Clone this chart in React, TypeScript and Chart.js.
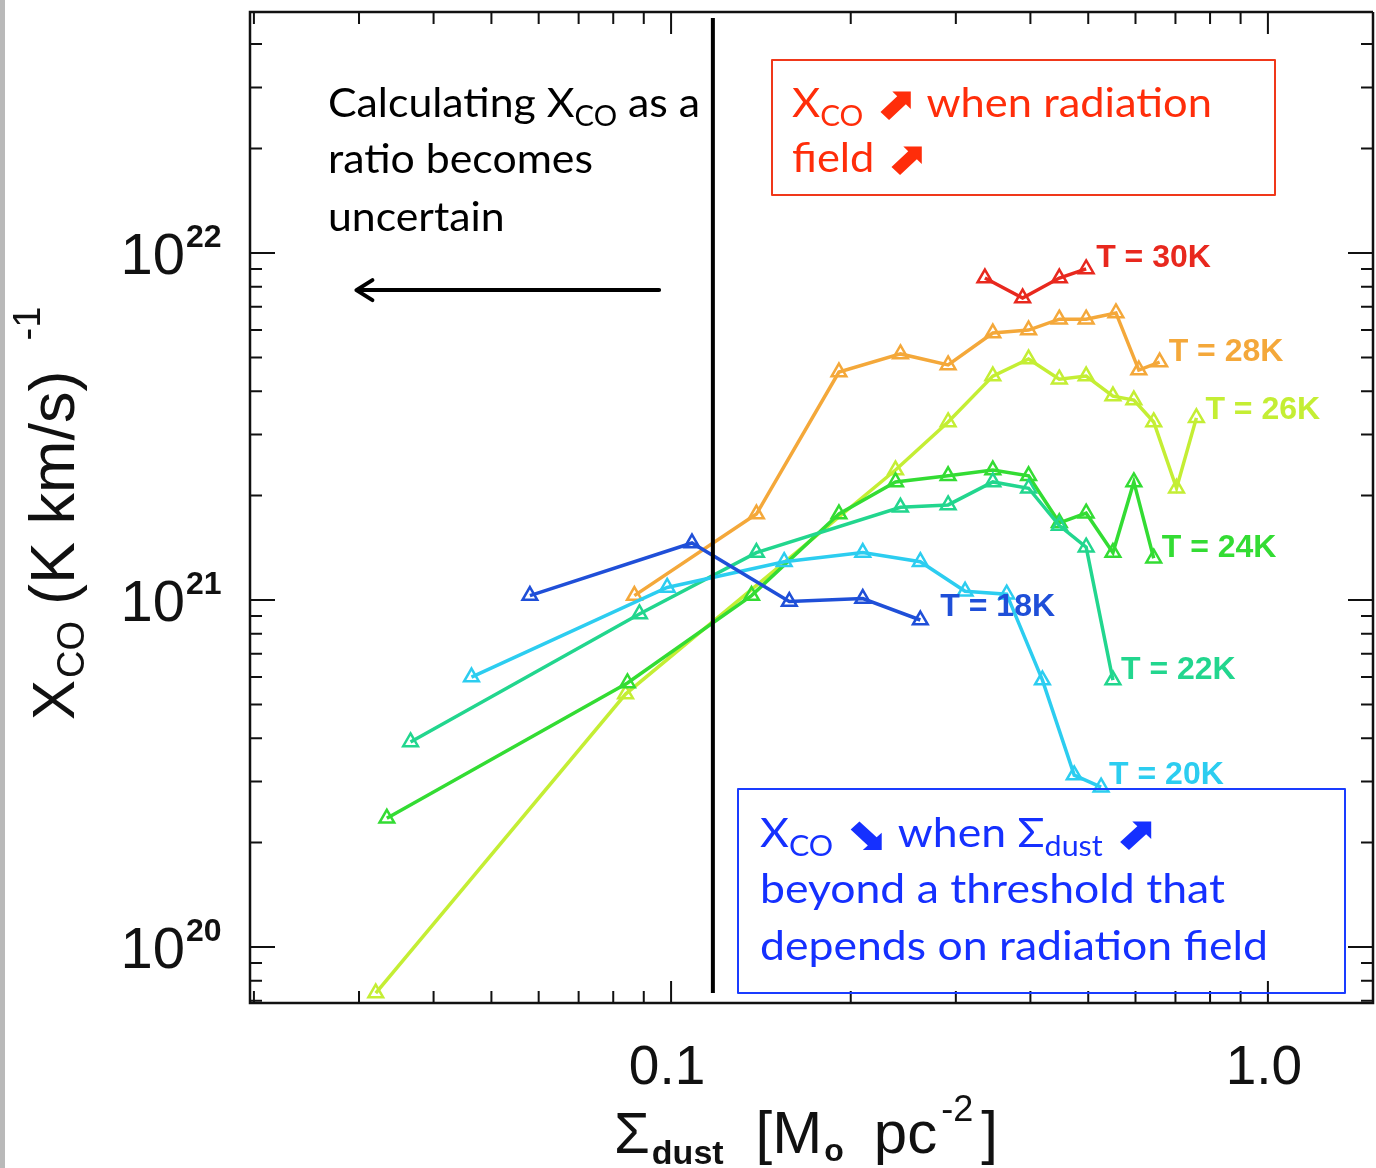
import React, { useEffect, useRef } from "react";
import { Chart, registerables } from "chart.js";

Chart.register(...registerables);

// Σ_dust [M☉ pc^-2] and X_CO [(K km/s)^-1] per dust temperature bin
const sigma18 = [0.058, 0.1084, 0.1578, 0.2095, 0.2616];
const xco18 = [1.03e21, 1.46e21, 9.9e20, 1.01e21, 8.76e20];

const sigma20 = [0.0463, 0.0985, 0.1547, 0.2095, 0.2616, 0.3109, 0.365, 0.419, 0.4737, 0.5254];
const xco20 = [6.0e20, 1.087e21, 1.29e21, 1.37e21, 1.29e21, 1.06e21, 1.04e21, 5.88e20, 3.13e20, 2.89e20];

const sigma22 = [0.0366, 0.0885, 0.139, 0.2423, 0.2912, 0.346, 0.3972, 0.4472, 0.496, 0.55];
const xco22 = [3.9e20, 9.12e20, 1.37e21, 1.85e21, 1.88e21, 2.19e21, 2.1e21, 1.64e21, 1.42e21, 5.88e20];

const sigma24 = [0.0334, 0.0845, 0.1364, 0.1911, 0.2377, 0.2912, 0.346, 0.3972, 0.4472, 0.496, 0.55, 0.5962, 0.6437];
const xco24 = [2.35e20, 5.77e20, 1.03e21, 1.77e21, 2.19e21, 2.28e21, 2.37e21, 2.28e21, 1.67e21, 1.78e21, 1.37e21, 2.19e21, 1.32e21];

const sigma26 = [0.032, 0.0839, 0.2377, 0.2912, 0.346, 0.3972, 0.4472, 0.496, 0.55, 0.5962, 0.6437, 0.7029, 0.7589];
const xco26 = [7.37e19, 5.36e20, 2.37e21, 3.26e21, 4.42e21, 4.95e21, 4.33e21, 4.42e21, 3.87e21, 3.77e21, 3.26e21, 2.1e21, 3.35e21];

const sigma28 = [0.0868, 0.139, 0.1911, 0.2423, 0.2912, 0.346, 0.3972, 0.4472, 0.496, 0.5564, 0.6077, 0.6586];
const xco28 = [1.03e21, 1.77e21, 4.54e21, 5.12e21, 4.76e21, 5.88e21, 6.0e21, 6.45e21, 6.45e21, 6.72e21, 4.6e21, 4.85e21];

const sigma30 = [0.3356, 0.3882, 0.4472, 0.496];
const xco30 = [8.47e21, 7.42e21, 8.47e21, 9.0e21];

const seriesLabels = ["T = 18K", "T = 20K", "T = 22K", "T = 24K", "T = 26K", "T = 28K", "T = 30K"];
const seriesSigma = [sigma18, sigma20, sigma22, sigma24, sigma26, sigma28, sigma30];
const seriesXco = [xco18, xco20, xco22, xco24, xco26, xco28, xco30];

// tick labels
const xTickValues = [0.1, 1.0];
const xTickLabels = ["0.1", "1.0"];
const yTickValues = [1e20, 1e21, 1e22];
const yTickExponents = ["20", "21", "22"];

// annotation anchors (data units)
const uncertainSigma = 0.1175;
const arrowFromSigma = 0.0955;
const arrowToSigma = 0.0297;
const arrowXco = 7.82e21;

// styling (kept separate from data)
const seriesColors = ["#1f4fd8", "#2ccdf0", "#22d68e", "#33dc33", "#c4ee34", "#f4a83a", "#e8281e"];
const labelShift = [
  [20, -13],
  [8, -12],
  [8, -10],
  [8, -10],
  [9, -8],
  [9, -10],
  [10, -11],
];

const SANS = '"Liberation Sans", Arial, Helvetica, sans-serif';
const CAL = 'Lato, "DejaVu Sans", sans-serif';
const SYM = '"DejaVu Sans", sans-serif';

type Run = { t: string; font: string; dy?: number; gap?: number };

function runWidth(ctx: CanvasRenderingContext2D, runs: Run[]) {
  let w = 0;
  for (const r of runs) {
    ctx.font = r.font;
    w += ctx.measureText(r.t).width + (r.gap || 0);
  }
  return w;
}

function drawRuns(ctx: CanvasRenderingContext2D, runs: Run[], x: number, y: number, sx: number, color: string) {
  ctx.save();
  ctx.translate(x, y);
  ctx.scale(sx, 1);
  ctx.fillStyle = color;
  ctx.textAlign = "left";
  ctx.textBaseline = "alphabetic";
  let cx = 0;
  for (const r of runs) {
    ctx.font = r.font;
    ctx.fillText(r.t, cx, r.dy || 0);
    cx += ctx.measureText(r.t).width + (r.gap || 0);
  }
  ctx.restore();
}

const overlay = {
  id: "overlay",
  beforeDraw(chart: any) {
    const ctx = chart.ctx as CanvasRenderingContext2D;
    ctx.save();
    ctx.fillStyle = "#ffffff";
    ctx.fillRect(0, 0, chart.width, chart.height);
    ctx.fillStyle = "#b9b9b9";
    ctx.fillRect(0, 0, 5, chart.height);
    ctx.restore();
  },
  afterDraw(chart: any) {
    const ctx = chart.ctx as CanvasRenderingContext2D;
    const xs = chart.scales.x;
    const ys = chart.scales.y;
    const { left, right, top, bottom } = chart.chartArea;
    ctx.save();

    // frame
    ctx.strokeStyle = "#111";
    ctx.lineWidth = 2.5;
    ctx.beginPath();
    ctx.moveTo(right, top);
    ctx.lineTo(left, top);
    ctx.lineTo(left, bottom);
    ctx.lineTo(right, bottom);
    ctx.lineTo(right, top);
    ctx.stroke();

    // ticks
    ctx.lineWidth = 2;
    ctx.beginPath();
    for (let d = -3; d <= 1; d++) {
      for (let k = 1; k <= 9; k++) {
        const v = k * Math.pow(10, d);
        if (v < xs.min || v > xs.max) continue;
        const px = xs.getPixelForValue(v);
        const len = k === 1 ? 22 : 12;
        ctx.moveTo(px, top);
        ctx.lineTo(px, top + len);
        ctx.moveTo(px, bottom);
        ctx.lineTo(px, bottom - len);
      }
    }
    for (let d = 18; d <= 23; d++) {
      for (let k = 1; k <= 9; k++) {
        const v = k * Math.pow(10, d);
        if (v < ys.min || v > ys.max) continue;
        const py = ys.getPixelForValue(v);
        const len = k === 1 ? 25 : 12;
        ctx.moveTo(left, py);
        ctx.lineTo(left + len, py);
        ctx.moveTo(right, py);
        ctx.lineTo(right - len, py);
      }
    }
    ctx.stroke();

    // tick labels
    ctx.fillStyle = "#111";
    ctx.font = `55px ${SANS}`;
    ctx.textAlign = "center";
    ctx.textBaseline = "alphabetic";
    xTickValues.forEach((v, i) => {
      ctx.fillText(xTickLabels[i], xs.getPixelForValue(v) - 4, bottom + 81);
    });
    yTickValues.forEach((v, i) => {
      const py = ys.getPixelForValue(v);
      ctx.textAlign = "right";
      ctx.font = `58px ${SANS}`;
      ctx.fillText("10", left - 65, py + 21);
      ctx.textAlign = "left";
      ctx.font = `bold 32px ${SANS}`;
      ctx.fillText(yTickExponents[i], left - 64, py - 6);
    });

    // y axis title (rotated)
    ctx.save();
    ctx.translate(74, 720);
    ctx.rotate(-Math.PI / 2);
    drawRuns(
      ctx,
      [
        { t: "X", font: `60px ${SANS}`, gap: 2 },
        { t: "CO", font: `38px ${SANS}`, dy: 10, gap: 16 },
        { t: "(K km/s)", font: `63px ${SANS}`, gap: 30 },
        { t: "-1", font: `38px ${SANS}`, dy: -34 },
      ],
      0,
      0,
      1,
      "#111"
    );
    ctx.restore();

    // x axis title
    drawRuns(
      ctx,
      [
        { t: "Σ", font: `58px ${SANS}`, gap: 2 },
        { t: "dust", font: `bold 34px ${SANS}`, dy: 11, gap: 32 },
        { t: "[M", font: `60px ${SANS}`, gap: 2 },
        { t: "o", font: `bold 32px ${SANS}`, dy: 8, gap: 30 },
        { t: "pc", font: `60px ${SANS}`, gap: 4 },
        { t: "-2", font: `36px ${SANS}`, dy: -32, gap: 8 },
        { t: "]", font: `60px ${SANS}` },
      ],
      614,
      1153,
      1,
      "#111"
    );

    // series labels at end of each curve
    ctx.font = `bold 32px ${SANS}`;
    ctx.textAlign = "left";
    ctx.textBaseline = "middle";
    seriesLabels.forEach((lab, i) => {
      const xv = seriesSigma[i];
      const yv = seriesXco[i];
      const px = xs.getPixelForValue(xv[xv.length - 1]);
      const py = ys.getPixelForValue(yv[yv.length - 1]);
      ctx.fillStyle = seriesColors[i];
      ctx.fillText(lab, px + labelShift[i][0], py + labelShift[i][1]);
    });

    // vertical threshold line
    const vx = xs.getPixelForValue(uncertainSigma);
    ctx.strokeStyle = "#000";
    ctx.lineWidth = 4;
    ctx.beginPath();
    ctx.moveTo(vx, top + 6);
    ctx.lineTo(vx, bottom - 10);
    ctx.stroke();

    // left-pointing arrow
    const ax0 = xs.getPixelForValue(arrowFromSigma);
    const ax1 = xs.getPixelForValue(arrowToSigma);
    const ay = ys.getPixelForValue(arrowXco);
    ctx.lineWidth = 4;
    ctx.lineCap = "round";
    ctx.lineJoin = "round";
    ctx.beginPath();
    ctx.moveTo(ax0, ay);
    ctx.lineTo(ax1 + 2, ay);
    ctx.moveTo(ax1 + 16, ay - 10);
    ctx.lineTo(ax1, ay);
    ctx.lineTo(ax1 + 16, ay + 10);
    ctx.stroke();
    ctx.lineCap = "butt";

    // black note
    const bMain = `41px ${CAL}`;
    const bSub = `28px ${CAL}`;
    const arrowFont = `bold 46px ${SYM}`;
    const bl1: Run[] = [
      { t: "Calculating X", font: bMain },
      { t: "CO", font: bSub, dy: 9 },
      { t: " as a", font: bMain },
    ];
    const bsx = 372 / runWidth(ctx, bl1);
    drawRuns(ctx, bl1, 328, 117, bsx, "#000");
    drawRuns(ctx, [{ t: "ratio becomes", font: bMain }], 328, 173, bsx, "#000");
    drawRuns(ctx, [{ t: "uncertain", font: bMain }], 328, 231, bsx, "#000");

    // red box
    ctx.strokeStyle = "#f0381a";
    ctx.lineWidth = 2;
    ctx.strokeRect(772, 60, 503, 135);
    const red = "#ff2d0a";
    const rl1: Run[] = [
      { t: "X", font: bMain },
      { t: "CO", font: bSub, dy: 9 },
      { t: " ", font: bMain },
      { t: "⬈", font: arrowFont, dy: 2 },
      { t: " when radiation", font: bMain },
    ];
    const rsx = 420 / runWidth(ctx, rl1);
    drawRuns(ctx, rl1, 792, 117, rsx, red);
    drawRuns(
      ctx,
      [
        { t: "field ", font: bMain },
        { t: "⬈", font: arrowFont, dy: 2 },
      ],
      792,
      172,
      rsx,
      red
    );

    // blue box
    ctx.strokeStyle = "#1a3cff";
    ctx.lineWidth = 2;
    ctx.strokeRect(738, 789, 607, 204);
    const blue = "#1530ff";
    const ul3: Run[] = [{ t: "depends on radiation field", font: bMain }];
    const usx = 508 / runWidth(ctx, ul3);
    drawRuns(
      ctx,
      [
        { t: "X", font: bMain },
        { t: "CO", font: bSub, dy: 9 },
        { t: " ", font: bMain },
        { t: "⬊", font: arrowFont, dy: 2 },
        { t: " when Σ", font: bMain },
        { t: "dust", font: bSub, dy: 9 },
        { t: " ", font: bMain },
        { t: "⬈", font: arrowFont, dy: 2 },
      ],
      760,
      847,
      usx,
      blue
    );
    drawRuns(ctx, [{ t: "beyond a threshold that", font: bMain }], 760, 903, usx, blue);
    drawRuns(ctx, ul3, 760, 960, usx, blue);

    ctx.restore();
  },
};

export default function App() {
  const ref = useRef<HTMLCanvasElement | null>(null);

  useEffect(() => {
    if (!ref.current) return;
    const datasets = seriesLabels.map((lab, i) => ({
      label: lab,
      data: seriesSigma[i].map((x, j) => ({ x, y: seriesXco[i][j] })),
      borderColor: seriesColors[i],
      backgroundColor: seriesColors[i],
      borderWidth: 3.5,
      pointStyle: "triangle",
      pointRadius: 8.5,
      pointBorderWidth: 2.5,
      pointBorderColor: seriesColors[i],
      pointBackgroundColor: "rgba(255,255,255,0)",
      tension: 0,
      fill: false,
    }));
    const chart = new Chart(ref.current, {
      type: "line",
      data: { datasets },
      options: {
        responsive: false,
        devicePixelRatio: 1,
        animation: false,
        layout: { padding: { left: 250, top: 12, right: 3, bottom: 165 } },
        plugins: { legend: { display: false }, tooltip: { enabled: false } },
        scales: {
          x: { type: "logarithmic", min: 0.0197, max: 1.5, display: false },
          y: { type: "logarithmic", min: 6.9e19, max: 4.95e22, display: false },
        },
      },
      plugins: [overlay],
    } as any);
    return () => chart.destroy();
  }, []);

  return (
    <div
      style={{
        position: "fixed",
        left: 0,
        top: 0,
        width: 1376,
        height: 1168,
        overflow: "hidden",
        background: "#fff",
      }}
    >
      <canvas ref={ref} width={1384} height={1168} style={{ display: "block", width: 1384, height: 1168 }} />
    </div>
  );
}
